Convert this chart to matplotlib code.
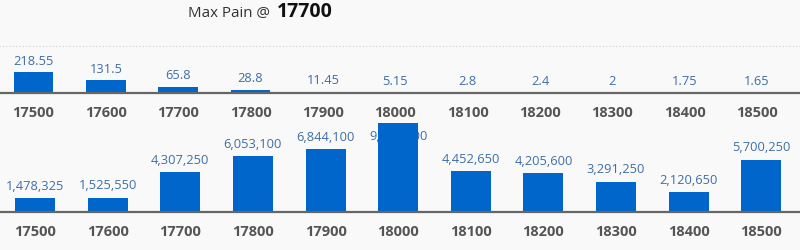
import matplotlib
matplotlib.use("Agg")
import matplotlib.pyplot as plt
import matplotlib.transforms as mtransforms

# --- Data ---
strikes = ["17500", "17600", "17700", "17800", "17900", "18000",
           "18100", "18200", "18300", "18400", "18500"]
premium = [218.55, 131.5, 65.8, 28.8, 11.45, 5.15, 2.8, 2.4, 2, 1.75, 1.65]
premium_labels = ["218.55", "131.5", "65.8", "28.8", "11.45", "5.15",
                  "2.8", "2.4", "2", "1.75", "1.65"]
pain = [1478325, 1525550, 4307250, 6053100, 6844100, 9671400,
        4452650, 4205600, 3291250, 2120650, 5700250]
max_pain = "17700"

BG = "#f9f9f9"
BAR = "#0066cc"
LBL = "#3f6ea6"
TICK = "#555555"

plt.rcParams['font.family'] = ['Open Sans', 'DejaVu Sans']

W, H = 800, 251
fig = plt.figure(figsize=(W / 100, H / 100), dpi=100)
fig.patch.set_facecolor(BG)

x = list(range(len(strikes)))


def px_axes(left, top, width, height):
    # helper: axes rect in pixels from top-left
    return fig.add_axes([left / W, (H - top - height) / H, width / W, height / H])


def style(ax, pad):
    ax.set_facecolor(BG)
    for s in ["top", "right", "left"]:
        ax.spines[s].set_visible(False)
    ax.spines["bottom"].set_color("#666666")
    ax.spines["bottom"].set_linewidth(1.6)
    ax.set_yticks([])
    ax.set_xticks(x)
    ax.set_xticklabels(strikes, fontsize=10.5, fontweight="bold", color=TICK)
    ax.tick_params(axis="x", length=0, pad=pad)
    ax.set_xlim(-0.5, len(strikes) - 0.5)


# --- Top panel: premium ---
top_h = 47
ax1 = px_axes(-2.7, 46.7, 805, top_h)
style(ax1, 9)
ax1.set_xlim(-0.5, -0.5 + 11 * 805 / 796)
ax1.set_ylim(0, 500)
ax1.axhline(500, color="#cccccc", linestyle=(0, (1, 2)), linewidth=0.8, clip_on=False)
ax1.bar(x, premium, width=0.55, color=BAR, zorder=2)
tr1 = mtransforms.blended_transform_factory(ax1.transData, ax1.transAxes)
for i, (v, s) in enumerate(zip(premium, premium_labels)):
    yf = (v / 500 * top_h + 12) / top_h
    ax1.text(i, yf, s, transform=tr1, ha="center", va="center",
             fontsize=9.3, color=LBL, clip_on=False, zorder=1)

# --- Bottom panel: pain ---
bot_h = 89
ymax = max(pain)
ax2 = px_axes(-1.3, 124, 802, bot_h)
style(ax2, 9)
ax2.set_xlim(-0.5, -0.5 + 11 * 802 / 799)
ax2.set_ylim(0, ymax)
ax2.bar(x, pain, width=0.55, color=BAR, zorder=2)
tr2 = mtransforms.blended_transform_factory(ax2.transData, ax2.transAxes)
for i, v in enumerate(pain):
    yf = min(v / ymax * bot_h + 13, 76) / bot_h
    ax2.text(i, yf, f"{v:,}", transform=tr2, ha="center", va="center",
             fontsize=9.3, color=LBL, clip_on=False, zorder=1)

# --- Title ---
fig.text(188 / W, (H - 17) / H, "Max Pain @ ", fontsize=10.9, color="#333333",
         ha="left", va="baseline")
fig.text(277 / W, (H - 17) / H, max_pain, fontsize=14, fontweight="bold",
         color="#111111", ha="left", va="baseline")

fig.savefig("out.png", dpi=100, facecolor=BG)
